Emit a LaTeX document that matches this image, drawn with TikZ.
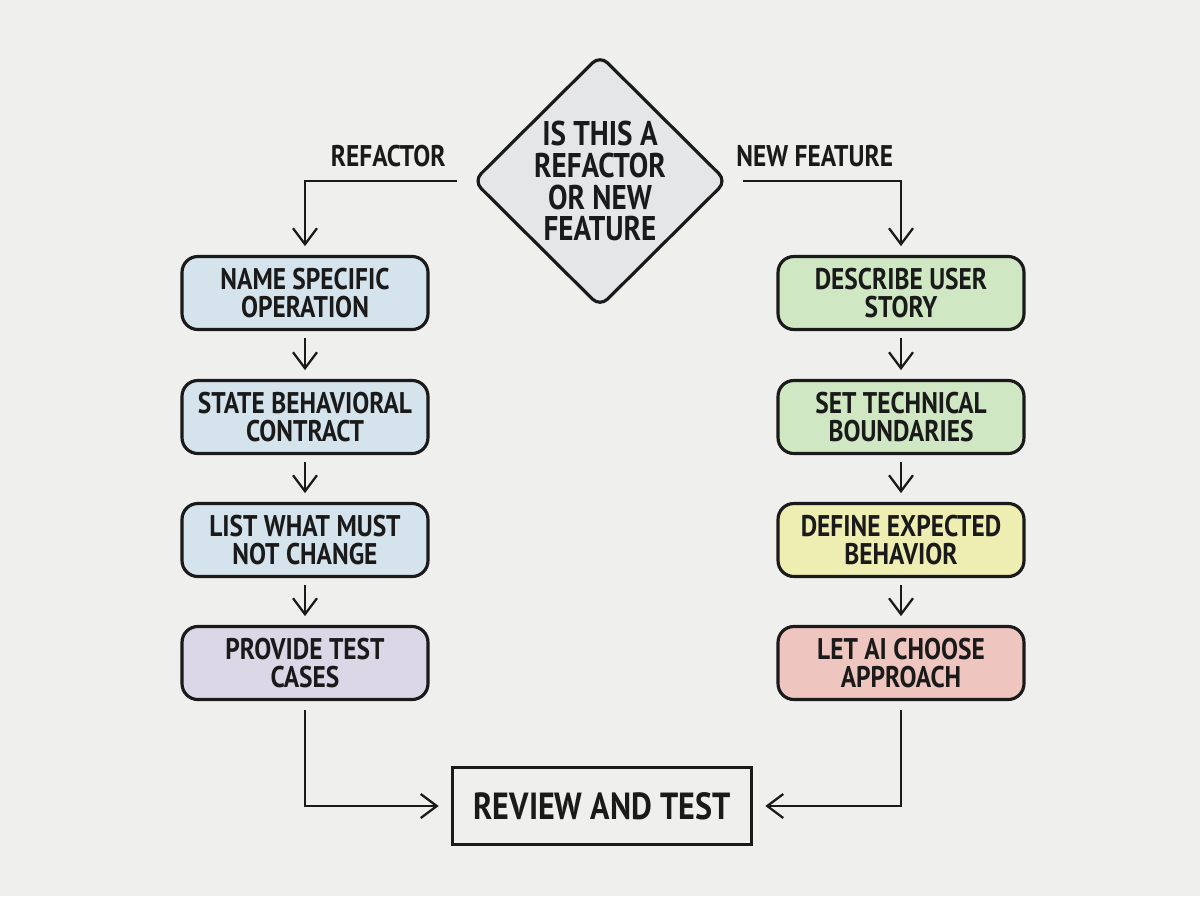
\documentclass[tikz,border=0pt]{standalone}
\usepackage{fontspec}
\newfontfamily\handfont{PT Sans}[FakeStretch=0.85]
\usetikzlibrary{shapes.geometric,arrows.meta}

\definecolor{paper}{HTML}{EFEFED}
\definecolor{ink}{HTML}{1A1A1A}
\definecolor{qgray}{HTML}{E4E6E8}
\definecolor{refblue}{HTML}{D5E3EC}
\definecolor{reflilac}{HTML}{DCD7E7}
\definecolor{featgreen}{HTML}{CFE8C3}
\definecolor{featyellow}{HTML}{EEEDB2}
\definecolor{featred}{HTML}{EEC6BF}

\tikzset{
  stepbox/.style={draw=ink, line width=1.8pt, rounded corners=9pt, minimum width=4.92cm,
    minimum height=1.46cm, align=center, inner sep=2pt},
  flow/.style={draw=ink, line width=1.3pt, -{Straight Barb[length=3.2mm,width=4.8mm,line width=1.3pt]}},
  branch/.style={font=\handfont\bfseries\fontsize{17}{18}\selectfont, text=ink}
}

\begin{document}
\begin{tikzpicture}[x=0.02cm, y=-0.02cm, every node/.style={font=\handfont\bfseries\fontsize{17}{16}\selectfont, text=ink}]
	\fill[paper] (0,0) rectangle (1200,896);
	\useasboundingbox (0,0) rectangle (1200,896);
	% question
	\node[diamond, draw=ink, line width=1.8pt, fill=qgray, rounded corners=6pt, aspect=1, inner sep=0pt,
	  minimum width=5.08cm, minimum height=4.96cm, align=center,
	  font=\handfont\bfseries\fontsize{19.5}{18.2}\selectfont] (q) at (600,181) {IS THIS A\\REFACTOR\\OR NEW\\FEATURE};
	% refactor path
	\node[stepbox, fill=refblue] (r1) at (305,293) {NAME SPECIFIC\\OPERATION};
	\node[stepbox, fill=refblue] (r2) at (305,417) {STATE BEHAVIORAL\\CONTRACT};
	\node[stepbox, fill=refblue] (r3) at (305,540) {LIST WHAT MUST\\NOT CHANGE};
	\node[stepbox, fill=reflilac] (r4) at (305,663) {PROVIDE TEST\\CASES};
	% feature path
	\node[stepbox, fill=featgreen] (f1) at (901,293) {DESCRIBE USER\\STORY};
	\node[stepbox, fill=featgreen] (f2) at (901,417) {SET TECHNICAL\\BOUNDARIES};
	\node[stepbox, fill=featyellow] (f3) at (901,540) {DEFINE EXPECTED\\BEHAVIOR};
	\node[stepbox, fill=featred] (f4) at (901,663) {LET AI CHOOSE\\APPROACH};
	% end
	\node[draw=ink, line width=1.8pt, fill=paper, minimum width=5.98cm, minimum height=1.54cm,
	  font=\handfont\bfseries\fontsize{21.5}{24}\selectfont] (rev) at (602,806) {REVIEW AND TEST};
	% branches
	\draw[flow, shorten <=8pt, shorten >=5pt] (q.west) -| (r1.north) node[branch, pos=0.25, above=4pt] {REFACTOR};
	\draw[flow, shorten <=8pt, shorten >=5pt] (q.east) -| (f1.north) node[branch, pos=0.25, above=4pt] {NEW FEATURE};
	\foreach \a/\b in {r1/r2, r2/r3, r3/r4, f1/f2, f2/f3, f3/f4}
		\draw[flow, shorten <=4pt, shorten >=5pt] (\a) -- (\b);
	\draw[flow, shorten <=5pt, shorten >=7pt] (r4.south) |- (rev.west);
	\draw[flow, shorten <=5pt, shorten >=7pt] (f4.south) |- (rev.east);
\end{tikzpicture}
\end{document}
